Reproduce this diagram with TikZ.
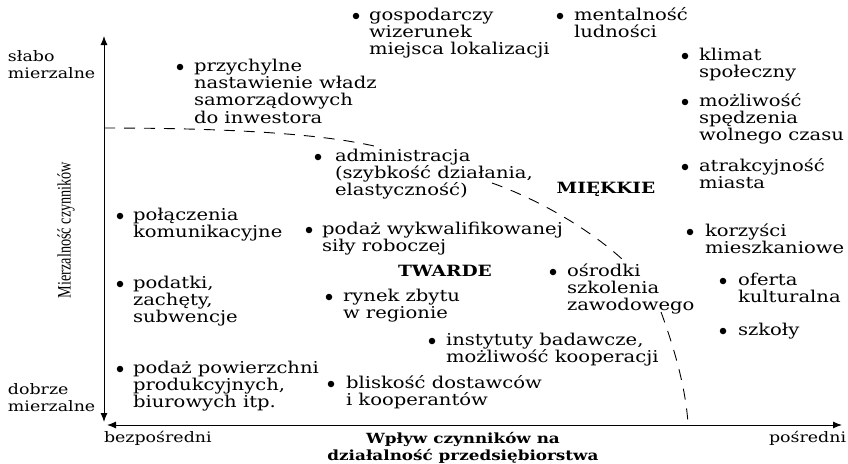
\documentclass[tikz,border=0pt]{standalone}
\usepackage{fontspec}
\setmainfont{DejaVu Serif}[FakeStretch=1.2]
\newfontfamily\ylabfont{Liberation Serif}[FakeStretch=0.75]
\usetikzlibrary{arrows.meta}
\tikzset{
  txt/.style={inner sep=0pt, outer sep=0pt, anchor=north west, align=left, font=\fontsize{16.3}{17.3}\selectfont},
  side/.style={inner sep=0pt, outer sep=0pt, anchor=north west, align=left, font=\fontsize{14.5}{16.5}\selectfont},
  dot/.style={circle, fill=black, draw=none, inner sep=0pt, minimum size=6.5pt},
  cat/.style={inner sep=0pt, anchor=base, font=\bfseries\fontsize{15.5}{17}\selectfont},
  axisline/.style={line width=1pt, {Latex[length=9pt,width=7pt]}-{Latex[length=9pt,width=7pt]}},
  bound/.style={line width=0.9pt, dash pattern=on 11pt off 9pt},
}
\newcommand\st{\rule{0pt}{14pt}}
\newcommand\sst{\rule{0pt}{12.5pt}}
\begin{document}
\begin{tikzpicture}[x=1pt,y=-1pt]
\useasboundingbox (0,0) rectangle (848,463);

% axes
\coordinate (ybot) at (104,422);
\coordinate (ytop) at (104,36);
\coordinate (xleft) at (107,425);
\coordinate (xright) at (842,425);
\draw[axisline] (ybot) -- (ytop);
\draw[axisline] (xleft) -- (xright);

% boundary curve (interrupted behind the texts, as in the original)
\coordinate (a0) at (104,128);
\coordinate (a1) at (250,128);
\coordinate (a2) at (330,136);
\coordinate (a3) at (374,146);
\draw[bound] (a0) .. controls (a1) and (a2) .. (a3);
\coordinate (b0) at (492,183);
\coordinate (b1) at (540,200);
\coordinate (b2) at (590,230);
\coordinate (b3) at (622,259);
\draw[bound] (b0) .. controls (b1) and (b2) .. (b3);
\coordinate (e0) at (661,312);
\coordinate (e1) at (675,350);
\coordinate (e2) at (686,390);
\coordinate (e3) at (688,424);
\draw[bound] (e0) .. controls (e1) and (e2) .. (e3);

% axis labels
\node[side] (slabo) at (8,49.3) {\sst słabo\\mierzalne};
\node[side] (dobrze) at (8,382.3) {\sst dobrze\\mierzalne};
\node[side] (bezp) at (104,430.3) {\sst bezpośredni};
\node[side] (posr) at (769,430.3) {\sst pośredni};
\node[inner sep=0pt, anchor=north, align=center, font=\bfseries\fontsize{14}{17}\selectfont] (wplyw) at (463,431.6) {\rule{0pt}{12pt}Wpływ czynników na\\działalność przedsiębiorstwa};
\node[rotate=90, inner sep=0pt, font=\ylabfont\fontsize{19}{20}\selectfont] (ylab) at (66,230) {Mierzalność czynników};

% categories
\node[cat] (miekkie) at (606,193) {MIĘKKIE};
\node[cat] (twarde) at (445,276) {TWARDE};

% items
\node[dot] (d1) at (356,16) {};
\node[txt] (t1) at (369,6.2) {\st gospodarczy\\wizerunek\\miejsca lokalizacji};
\node[dot] (d2) at (560,16) {};
\node[txt] (t2) at (574,6.2) {\st mentalność\\ludności};
\node[dot] (d3) at (685,56) {};
\node[txt] (t3) at (699,46.2) {\st klimat\\społeczny};
\node[dot] (d4) at (685,102) {};
\node[txt] (t4) at (699,92.2) {\st możliwość\\spędzenia\\wolnego czasu};
\node[dot] (d5) at (685,167) {};
\node[txt] (t5) at (699,157.2) {\st atrakcyjność\\miasta};
\node[dot] (d6) at (180,67) {};
\node[txt] (t6) at (194,57.2) {\st przychylne\\nastawienie władz\\samorządowych\\do inwestora};
\node[dot] (d7) at (318,157) {};
\node[txt] (t7) at (335,147.2) {\st administracja\\(szybkość działania,\\elastyczność)};
\node[dot] (d8) at (120,216) {};
\node[txt] (t8) at (133,206.2) {\st połączenia\\komunikacyjne};
\node[dot] (d9) at (309,230) {};
\node[txt] (t9) at (322,220.2) {\st podaż wykwalifikowanej\\siły roboczej};
\node[dot] (d10) at (120,284) {};
\node[txt] (t10) at (133,274.2) {\st podatki,\\zachęty,\\subwencje};
\node[dot] (d11) at (329,297) {};
\node[txt] (t11) at (343,287.2) {\st rynek zbytu\\w regionie};
\node[dot] (d12) at (553,272) {};
\node[txt] (t12) at (567,262.2) {\st ośrodki\\szkolenia\\zawodowego};
\node[dot] (d13) at (690,232) {};
\node[txt] (t13) at (705,222.2) {\st korzyści\\mieszkaniowe};
\node[dot] (d14) at (723,281) {};
\node[txt] (t14) at (738,271.2) {\st oferta\\kulturalna};
\node[dot] (d15) at (723,331) {};
\node[txt] (t15) at (738,321.2) {\st szkoły};
\node[dot] (d16) at (432,341) {};
\node[txt] (t16) at (446,331.2) {\st instytuty badawcze,\\możliwość kooperacji};
\node[dot] (d17) at (120,369) {};
\node[txt] (t17) at (133,359.2) {\st podaż powierzchni\\produkcyjnych,\\biurowych itp.};
\node[dot] (d18) at (331,384) {};
\node[txt] (t18) at (346,374.2) {\st bliskość dostawców\\i kooperantów};
\end{tikzpicture}
\end{document}
